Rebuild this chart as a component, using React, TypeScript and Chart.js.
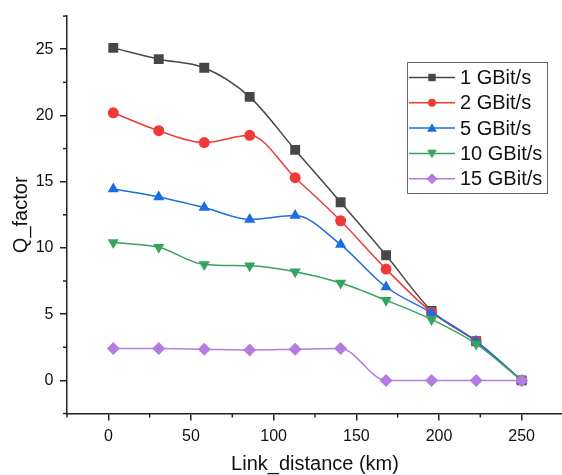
import React, { useEffect, useRef } from 'react';
import { Chart, registerables } from 'chart.js';

Chart.register(...registerables);

const distances = [3, 30.5, 58, 85.5, 113, 140.5, 168, 195.5, 222.5, 250];
const q1G = [25.1, 24.25, 23.6, 21.4, 17.4, 13.45, 9.45, 5.25, 2.95, 0];
const q2G = [20.2, 18.85, 17.95, 18.5, 15.3, 12.05, 8.4, 5.15, 2.95, 0];
const q5G = [14.45, 13.85, 13.05, 12.15, 12.45, 10.25, 7.05, 5.1, 2.95, 0];
const q10G = [10.4, 10.05, 8.75, 8.65, 8.2, 7.35, 6.05, 4.6, 2.75, 0];
const q15G = [2.4, 2.4, 2.35, 2.3, 2.35, 2.4, 0, 0, 0, 0];

const seriesLabels = ['1 GBit/s', '2 GBit/s', '5 GBit/s', '10 GBit/s', '15 GBit/s'];
const seriesValues = [q1G, q2G, q5G, q10G, q15G];
const seriesColors = ['#474747', '#f03a3a', '#1b6ee0', '#36a35e', '#b57be0'];
const seriesStyles = ['rect', 'circle', 'triangle', 'triangleDown', 'diamond'];

const xMin = -25;
const xMax = 275;
const xMinorStep = 25;
const xMajorTicks = [0, 50, 100, 150, 200, 250];
const yMin = -2.5;
const yMax = 27.5;
const yMinorStep = 2.5;
const yMajorTicks = [0, 5, 10, 15, 20, 25];
const xTitle = 'Link_distance (km)';
const yTitle = 'Q_factor';

const FONT = '"Liberation Sans", Arial, sans-serif';

function pointStyleFor(s: string) {
  if (s === 'triangleDown') return 'triangle';
  if (s === 'diamond') return 'rectRot';
  return s;
}
function radiusFor(s: string) {
  if (s === 'rect') return 7;
  if (s === 'circle') return 5.5;
  if (s === 'diamond') return 6.5;
  return 6.5;
}

function drawMarker(ctx: CanvasRenderingContext2D, style: string, x: number, y: number, r: number, color: string) {
  ctx.save();
  ctx.fillStyle = color;
  ctx.beginPath();
  if (style === 'rect') {
    ctx.rect(x - r, y - r, 2 * r, 2 * r);
  } else if (style === 'circle') {
    ctx.arc(x, y, r, 0, Math.PI * 2);
  } else if (style === 'triangle') {
    ctx.moveTo(x, y - r * 1.05);
    ctx.lineTo(x + r * 1.05, y + r * 0.8);
    ctx.lineTo(x - r * 1.05, y + r * 0.8);
    ctx.closePath();
  } else if (style === 'triangleDown') {
    ctx.moveTo(x, y + r * 1.05);
    ctx.lineTo(x + r * 1.05, y - r * 0.8);
    ctx.lineTo(x - r * 1.05, y - r * 0.8);
    ctx.closePath();
  } else {
    ctx.moveTo(x, y - r * 1.2);
    ctx.lineTo(x + r * 1.2, y);
    ctx.lineTo(x, y + r * 1.2);
    ctx.lineTo(x - r * 1.2, y);
    ctx.closePath();
  }
  ctx.fill();
  ctx.restore();
}

const minorTicksPlugin = {
  id: 'minorTicks',
  afterDraw(chart: any) {
    const ctx = chart.ctx as CanvasRenderingContext2D;
    const xs = chart.scales.x;
    const ys = chart.scales.y;
    ctx.save();
    ctx.strokeStyle = '#222';
    ctx.lineWidth = 1.5;
    for (let v = xMin; v <= xMax + 1e-6; v += xMinorStep) {
      if (xMajorTicks.includes(v)) continue;
      const px = xs.getPixelForValue(v);
      ctx.beginPath();
      ctx.moveTo(px, xs.top);
      ctx.lineTo(px, xs.top + 4);
      ctx.stroke();
    }
    for (let v = yMin; v <= yMax + 1e-6; v += yMinorStep) {
      if (yMajorTicks.includes(v)) continue;
      const py = ys.getPixelForValue(v);
      ctx.beginPath();
      ctx.moveTo(ys.right, py);
      ctx.lineTo(ys.right - 4, py);
      ctx.stroke();
    }
    ctx.restore();
  },
};

const legendPlugin = {
  id: 'boxLegend',
  afterDraw(chart: any) {
    const ctx = chart.ctx as CanvasRenderingContext2D;
    const left = 407;
    const top = 62;
    const w = 140;
    const h = 131;
    ctx.save();
    ctx.fillStyle = '#ffffff';
    ctx.fillRect(left, top, w, h);
    ctx.strokeStyle = '#666';
    ctx.lineWidth = 1;
    ctx.strokeRect(left + 0.5, top + 0.5, w, h);
    seriesLabels.forEach((label, i) => {
      const y = top + 15.5 + i * 25.3;
      const color = seriesColors[i];
      ctx.strokeStyle = color;
      ctx.lineWidth = 1.5;
      ctx.beginPath();
      ctx.moveTo(left + 2, y);
      ctx.lineTo(left + 48, y);
      ctx.stroke();
      const st = seriesStyles[i];
      const r = st === 'rect' ? 3.7 : st === 'circle' ? 4 : 4.6;
      drawMarker(ctx, st, left + 25, y, r, color);
      ctx.fillStyle = '#111';
      ctx.font = `20px ${FONT}`;
      ctx.textBaseline = 'middle';
      ctx.textAlign = 'left';
      ctx.fillText(label, left + 53, y + 1);
    });
    ctx.restore();
  },
};

export default function App() {
  const ref = useRef<HTMLCanvasElement | null>(null);
  useEffect(() => {
    if (!ref.current) return;
    const datasets = seriesValues.map((vals, i) => ({
      label: seriesLabels[i],
      data: distances.map((d, j) => ({ x: d, y: vals[j] })),
      borderColor: seriesColors[i],
      backgroundColor: seriesColors[i],
      pointBackgroundColor: seriesColors[i],
      pointBorderColor: seriesColors[i],
      pointBorderWidth: 0,
      pointStyle: pointStyleFor(seriesStyles[i]),
      pointRotation: seriesStyles[i] === 'triangleDown' ? 180 : 0,
      pointRadius: radiusFor(seriesStyles[i]),
      borderWidth: 1.5,
      cubicInterpolationMode: 'monotone' as const,
      fill: false,
      order: 4 - i,
    }));
    const chart = new Chart(ref.current, {
      type: 'line',
      data: { datasets },
      plugins: [minorTicksPlugin, legendPlugin],
      options: {
        animation: false,
        responsive: false,
        devicePixelRatio: 1,
        layout: { padding: { top: 11.5, right: 5.3, left: 0, bottom: 0 } },
        plugins: { legend: { display: false }, tooltip: { enabled: false } },
        scales: {
          x: {
            type: 'linear',
            min: xMin,
            max: xMax,
            afterBuildTicks: (s: any) => { s.ticks = xMajorTicks.map((v) => ({ value: v })); },
            afterFit: (s: any) => { s.height = 61.5; },
            ticks: {
              padding: 6,
              color: '#111',
              font: { family: FONT, size: 16 },
            },
            grid: { drawOnChartArea: false, drawTicks: true, tickLength: 7, color: '#222', lineWidth: 1.5 },
            border: { display: true, color: '#222', width: 1.5 },
            title: {
              display: true,
              text: xTitle,
              color: '#111',
              font: { family: FONT, size: 20, lineHeight: 1 },
              padding: { top: 0, bottom: 0.5 },
            },
          },
          y: {
            type: 'linear',
            min: yMin,
            max: yMax,
            afterBuildTicks: (s: any) => { s.ticks = yMajorTicks.map((v) => ({ value: v })); },
            afterFit: (s: any) => { s.width = 67; },
            ticks: {
              padding: 6.5,
              color: '#111',
              font: { family: FONT, size: 16 },
            },
            grid: { drawOnChartArea: false, drawTicks: true, tickLength: 7, color: '#222', lineWidth: 1.5 },
            border: { display: true, color: '#222', width: 1.5 },
            title: {
              display: true,
              text: yTitle,
              color: '#111',
              font: { family: FONT, size: 20, lineHeight: 1 },
              padding: { top: 11, bottom: 0 },
            },
          },
        },
      },
    } as any);
    return () => chart.destroy();
  }, []);
  return (
    <div style={{ position: 'fixed', left: 0, top: 0, width: 562, height: 475, overflow: 'hidden', background: '#fff' }}>
      <canvas ref={ref} width={570} height={475} style={{ display: 'block' }} />
    </div>
  );
}
